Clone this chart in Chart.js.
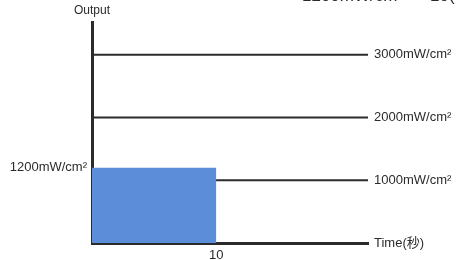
<!DOCTYPE html>
<html>
<head>
<meta charset="utf-8">
<script src="https://cdn.jsdelivr.net/npm/chart.js@4"></script>
<style>
  html,body{margin:0;padding:0;background:#fff;}
  #wrap{width:456px;height:260px;}
</style>
</head>
<body>
<div id="wrap"><canvas id="c" width="456" height="260"></canvas></div>
<script>
// irradiation: 1200 mW/cm2 for 10 s
const outputLevel = 1200;
const duration = 10;
const refLevels = [1000, 2000, 3000];
const refLabels = ['1000mW/cm²', '2000mW/cm²', '3000mW/cm²'];
const xTicks = [10];
const leftTicks = [1200];
const leftLabels = ['1200mW/cm²'];
const xMax = 22.2;
const yMax = 3520;

const FONT = "'Liberation Sans', 'Noto Sans CJK JP', sans-serif";
const INK = '#2b2b2b';

const datasets = [{
  data: [{x: 0, y: outputLevel}, {x: duration, y: outputLevel}],
  borderWidth: 0,
  pointRadius: 0,
  backgroundColor: '#5b8dd8',
  fill: 'origin'
}].concat(refLevels.map(v => ({
  data: [{x: 0, y: v}, {x: xMax, y: v}],
  borderColor: INK,
  borderWidth: 2,
  pointRadius: 0,
  fill: false
})));

const textPlugin = {
  id: 'texts',
  afterDraw(chart){
    const ctx = chart.ctx, a = chart.chartArea;
    ctx.save();
    ctx.fillStyle = INK;
    ctx.font = '12px ' + FONT;
    ctx.textAlign = 'center';
    ctx.textBaseline = 'middle';
    ctx.fillText('Output', a.left, 11);
    // heading, cut off at the top of the picture
    ctx.font = '17px ' + FONT;
    ctx.textAlign = 'left';
    ctx.textBaseline = 'bottom';
    ctx.fillText('1200mW/cm²', 302, 5);
    ctx.fillText('10(秒)', 430, 5);
    ctx.restore();
  }
};

new Chart(document.getElementById('c'), {
  type: 'line',
  data: {datasets},
  options: {
    responsive: false,
    animation: false,
    layout: {padding: {top: 22, left: 0, right: 0, bottom: 0}},
    plugins: {legend: {display: false}, tooltip: {enabled: false}},
    scales: {
      x: {
        type: 'linear', min: 0, max: xMax, z: 1,
        grid: {display: false, drawTicks: false},
        border: {display: true, color: INK, width: 3},
        afterBuildTicks: s => { s.ticks = xTicks.map(v => ({value: v})); },
        afterFit: s => { s.height = 17; },
        ticks: {padding: 5, color: INK, font: {size: 13, family: FONT}, autoSkip: false, maxRotation: 0}
      },
      y: {
        type: 'linear', min: 0, max: yMax, z: 1,
        grid: {display: false, drawTicks: false},
        border: {display: true, color: INK, width: 3},
        afterBuildTicks: s => { s.ticks = leftTicks.map(v => ({value: v})); },
        afterFit: s => { s.width = 92; },
        ticks: {padding: 5, color: INK, font: {size: 13, family: FONT}, autoSkip: false,
          callback: v => leftLabels[leftTicks.indexOf(v)]}
      },
      yr: {
        type: 'linear', position: 'right', min: 0, max: yMax,
        grid: {display: false, drawTicks: false},
        border: {display: false},
        afterBuildTicks: s => { s.ticks = [0].concat(refLevels).map(v => ({value: v})); },
        afterFit: s => { s.width = 88; },
        ticks: {padding: 6, color: INK, font: {size: 13, family: FONT}, autoSkip: false,
          callback: v => v === 0 ? 'Time(秒)' : refLabels[refLevels.indexOf(v)]}
      }
    }
  },
  plugins: [textPlugin]
});
</script>
</body>
</html>
